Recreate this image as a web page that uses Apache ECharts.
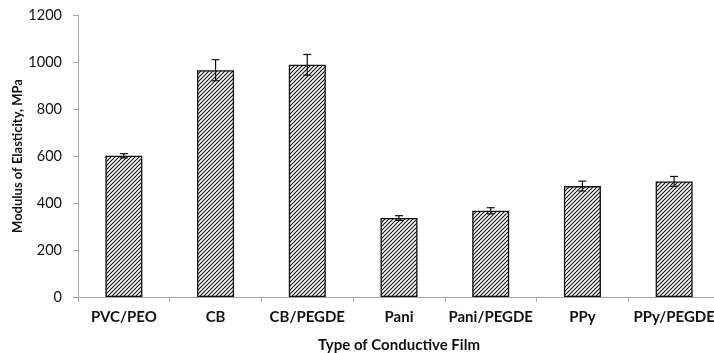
<!DOCTYPE html>
<html><head><meta charset="utf-8">
<script src="https://cdn.jsdelivr.net/npm/echarts@6/dist/echarts.min.js"></script>
<style>html,body{margin:0;padding:0;background:#fff}#c{width:714px;height:353px}</style>
</head><body><div id="c"></div>
<script>
const categories = ['PVC/PEO','CB','CB/PEGDE','Pani','Pani/PEGDE','PPy','PPy/PEGDE'];
const values = [601, 965, 988, 336, 367, 472, 492];
const errors = [9, 45, 44, 10, 13, 21, 21];
const yTicks = [0, 200, 400, 600, 800, 1000, 1200];

function hatch(){
  const c = document.createElement('canvas');
  c.width = 4; c.height = 4;
  const g = c.getContext('2d');
  g.fillStyle = '#fff'; g.fillRect(0,0,4,4);
  g.strokeStyle = '#111'; g.lineWidth = 1.1;
  g.beginPath();
  g.moveTo(-1,5); g.lineTo(5,-1);
  g.moveTo(-1,1); g.lineTo(1,-1);
  g.moveTo(3,5); g.lineTo(5,3);
  g.stroke();
  return c;
}
const font = 'Lato, Open Sans, Liberation Sans, sans-serif';
const chart = echarts.init(document.getElementById('c'));
chart.setOption({
  animation:false,
  grid:{left:78, right:-6, top:15, bottom:56, outerBoundsMode:'none', containLabel:false},
  xAxis:{type:'category', data:categories,
    axisLine:{lineStyle:{color:'#a6a6a6', width:1}},
    axisTick:{show:true, interval:0, length:5, lineStyle:{color:'#a6a6a6'}},
    axisLabel:{interval:0, color:'#111', fontWeight:'bold', fontSize:15, fontFamily:font, margin:13},
    name:'Type of Conductive Film', nameLocation:'middle', nameGap:41, nameMoveOverlap:false,
    nameTextStyle:{color:'#111', fontWeight:'bold', fontSize:15, fontFamily:font}},
  yAxis:{type:'value', min:yTicks[0], max:yTicks[yTicks.length-1], interval:200,
    axisLine:{show:true, lineStyle:{color:'#a6a6a6'}},
    axisTick:{show:true, length:5, lineStyle:{color:'#a6a6a6'}},
    splitLine:{show:false},
    axisLabel:{color:'#111', fontSize:14.5, fontFamily:font, margin:16, formatter:v=>String(v)},
    name:'Modulus of Elasticity, MPa', nameLocation:'middle', nameGap:54, nameMoveOverlap:false,
    nameTextStyle:{color:'#111', fontWeight:'bold', fontSize:13, fontFamily:font}},
  series:[
    {type:'bar', data:values, barWidth:37,
      itemStyle:{color:{image:hatch(), repeat:'repeat'}, borderColor:'#111', borderWidth:1.3}},
    {type:'custom', data:values.map((v,i)=>[i, v-errors[i], v+errors[i]]),
      renderItem:function(params, api){
        const lo = api.coord([api.value(0), api.value(1)]);
        const hi = api.coord([api.value(0), api.value(2)]);
        const x = lo[0], w = 4;
        const st = {stroke:'#111', lineWidth:1.2};
        return {type:'group', children:[
          {type:'line', shape:{x1:x, y1:lo[1], x2:x, y2:hi[1]}, style:st},
          {type:'line', shape:{x1:x-w, y1:lo[1], x2:x+w, y2:lo[1]}, style:st},
          {type:'line', shape:{x1:x-w, y1:hi[1], x2:x+w, y2:hi[1]}, style:st}
        ]};
      }, z:10}
  ]
});
</script></body></html>
